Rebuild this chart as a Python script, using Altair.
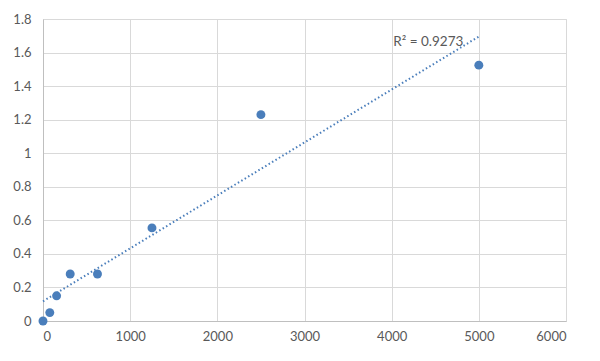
import altair as alt
import pandas as pd

# Data
conc = [0, 78, 156, 312, 625, 1250, 2500, 5000]
od = [0.0, 0.05, 0.15, 0.28, 0.28, 0.555, 1.23, 1.525]
x_ticks = [0, 1000, 2000, 3000, 4000, 5000, 6000]
y_ticks = [0, 0.2, 0.4, 0.6, 0.8, 1.0, 1.2, 1.4, 1.6, 1.8]
r2_label = ["R² = 0.9273"]
r2_pos_x = [4420]
r2_pos_y = [1.663]

df = pd.DataFrame({"x": conc, "y": od})
lab = pd.DataFrame({"x": r2_pos_x, "y": r2_pos_y, "t": r2_label})

FONT = "Lato"
BLUE = "#4a7ebb"

xs = alt.Scale(domain=[0, 6000], nice=False)
ys = alt.Scale(domain=[0, 1.8], nice=False)

xax = alt.Axis(values=x_ticks, format="d", title=None, grid=True, ticks=False,
               labelPadding=9, labelFontSize=13, labelColor="#595959", labelFont=FONT,
               labelOverlap=False,
               gridColor="#d9d9d9", domainColor="#bfbfbf")
yax = alt.Axis(values=y_ticks, format="~g", title=None, grid=True, ticks=False,
               labelPadding=12, labelFontSize=13, labelColor="#595959", labelFont=FONT,
               labelOverlap=False,
               gridColor="#d9d9d9", domainColor="#bfbfbf")

X = alt.X("x:Q", scale=xs, axis=xax)
Y = alt.Y("y:Q", scale=ys, axis=yax)

base = alt.Chart(df)

points = base.mark_circle(size=80, color=BLUE, opacity=1).encode(x=X, y=Y)

trend = base.transform_regression("x", "y", extent=[0, 5000]).mark_line(
    color=BLUE, strokeWidth=2, strokeDash=[1.5, 2.5]
).encode(x=X, y=Y)

text = alt.Chart(lab).mark_text(font=FONT, fontSize=13.5, color="#595959",
                                align="center", baseline="middle").encode(
    x=X, y=Y, text="t:N",
)

chart = alt.layer(trend, points, text).properties(
    width=523, height=302,
    autosize=alt.AutoSizeParams(type="none"),
    padding={"left": 35, "top": 11, "right": 24, "bottom": 28},
).configure_view(stroke=None).configure(background="white")

chart.save("out.html", embed_options={"renderer": "svg", "actions": False})
